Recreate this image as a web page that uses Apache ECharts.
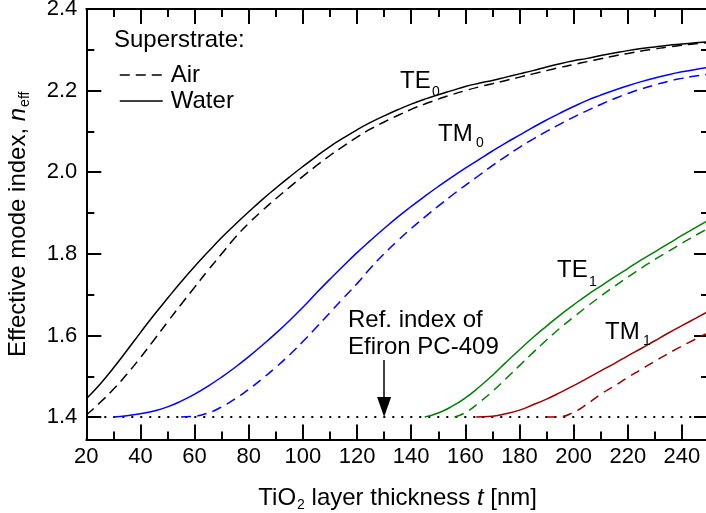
<!DOCTYPE html>
<html><head><meta charset="utf-8">
<script src="https://cdn.jsdelivr.net/npm/echarts@6/dist/echarts.min.js"></script>
<style>html,body{margin:0;padding:0;background:#fff}#c{width:706px;height:513px}</style>
</head><body><div id="c"></div>
<script>
// ---------- data ----------
const xMin = 20, xMax = 250, xStep = 20;
const yMin = 1.345, yMax = 2.4, yLabelStep = 0.2;

const te0WaterT = [20,25,30,35,40,45,50,55,60,65,70,75,80,85,90,95,100,105,110,115,120,125,130,135,140,145,150,155,160,165,170,175,180,185,190,195,200,205,210,215,220,225,230,235,240,245,250];
const te0WaterN = [1.445,1.480,1.520,1.563,1.607,1.650,1.691,1.731,1.769,1.805,1.840,1.872,1.903,1.933,1.961,1.988,2.014,2.039,2.063,2.084,2.104,2.122,2.138,2.153,2.167,2.179,2.190,2.200,2.210,2.218,2.225,2.233,2.241,2.249,2.258,2.266,2.273,2.279,2.286,2.292,2.298,2.303,2.307,2.311,2.314,2.317,2.320];

const te0AirT = [20,25,30,35,40,45,50,55,60,65,70,75,80,85,90,95,100,105,110,115,120,125,130,135,140,145,150,155,160,165,170,175,180,185,190,195,200,205,210,215,220,225,230,235,240,245,250];
const te0AirN = [1.405,1.435,1.468,1.505,1.546,1.589,1.633,1.676,1.718,1.760,1.800,1.840,1.875,1.906,1.935,1.963,1.990,2.016,2.041,2.064,2.086,2.106,2.123,2.139,2.154,2.167,2.179,2.190,2.200,2.209,2.217,2.225,2.233,2.241,2.249,2.257,2.264,2.271,2.278,2.285,2.291,2.297,2.302,2.307,2.311,2.315,2.318];

const tm0WaterT = [30,35,40,45,50,55,60,65,70,75,80,85,90,95,100,105,110,115,120,125,130,135,140,145,150,155,160,165,170,175,180,185,190,195,200,205,210,215,220,225,230,235,240,245,250];
const tm0WaterN = [1.400,1.403,1.408,1.415,1.425,1.439,1.456,1.476,1.498,1.522,1.548,1.576,1.605,1.636,1.669,1.704,1.738,1.771,1.803,1.833,1.862,1.890,1.916,1.941,1.965,1.988,2.010,2.031,2.052,2.072,2.091,2.110,2.128,2.145,2.161,2.176,2.189,2.201,2.212,2.222,2.231,2.239,2.246,2.252,2.257];

const tm0AirT = [55,60,65,70,75,80,85,90,95,100,105,110,115,120,125,130,135,140,145,150,155,160,165,170,175,180,185,190,195,200,205,210,215,220,225,230,235,240,245,250];
const tm0AirN = [1.400,1.402,1.410,1.425,1.445,1.468,1.494,1.522,1.552,1.585,1.620,1.656,1.692,1.727,1.765,1.800,1.832,1.862,1.890,1.917,1.943,1.968,1.992,2.016,2.039,2.061,2.081,2.100,2.118,2.135,2.151,2.166,2.180,2.193,2.204,2.214,2.223,2.230,2.236,2.240];

const te1WaterT = [145,150,155,160,165,170,175,180,185,190,195,200,205,210,215,220,225,230,235,240,245,250];
const te1WaterN = [1.400,1.410,1.426,1.447,1.473,1.502,1.534,1.565,1.595,1.623,1.650,1.675,1.699,1.721,1.743,1.764,1.785,1.805,1.825,1.845,1.864,1.883];

const te1AirT = [156,160,165,170,175,180,185,190,195,200,205,210,215,220,225,230,235,240,245,250];
const te1AirN = [1.400,1.411,1.435,1.463,1.494,1.526,1.558,1.589,1.618,1.645,1.671,1.696,1.720,1.743,1.765,1.786,1.806,1.826,1.845,1.864];

const tm1WaterT = [164,170,175,180,185,190,195,200,205,210,215,220,225,230,235,240,245,250];
const tm1WaterN = [1.400,1.402,1.408,1.417,1.430,1.444,1.460,1.477,1.495,1.513,1.531,1.550,1.568,1.587,1.606,1.624,1.642,1.660];

const tm1AirT = [190,195,200,205,210,215,220,225,230,235,240,245,250];
const tm1AirN = [1.400,1.401,1.412,1.432,1.456,1.476,1.497,1.517,1.537,1.556,1.574,1.591,1.608];

const refIndexT = [20, 250];
const refIndexN = [1.40, 1.40];
const arrowT = 130, arrowTopN = 1.54, arrowHeadN = 1.4245;

// ---------- chart ----------
const FONT = '"Liberation Sans", Arial, sans-serif';
const K = '#000000', B = '#0000ff', G = '#008000', R = '#990000';
const DASH = [10, 6];
const pairs = (t, n) => t.map((v, i) => [v, n[i]]);
function curve(name, t, n, color, dashed) {
  return {
    type: 'line', name: name, data: pairs(t, n), symbol: 'none', showSymbol: false,
    smooth: 0.5, silent: true, z: 3,
    lineStyle: { color: color, width: 1.5, type: dashed ? DASH : 'solid' },
    itemStyle: { color: color }
  };
}
const tickStyle = { color: K, width: 2 };
const yFmt = v => (Math.abs(v / yLabelStep - Math.round(v / yLabelStep)) < 1e-6 ? v.toFixed(1) : '');
const xFmt = v => (v % xStep === 0 && v < xMax ? String(v) : '');
const richName = {
  sub: { fontSize: 14, fontFamily: FONT, color: K, padding: [14, 0, 0, 1] },
  it: { fontSize: 24, fontFamily: FONT, color: K, fontStyle: 'italic' }
};

const chart = echarts.init(document.getElementById('c'), null, { renderer: 'canvas' });
const option = {
  animation: false,
  backgroundColor: '#fff',
  grid: { left: 86.3, right: -3, top: 9, bottom: 73.5, containLabel: false, outerBoundsMode: 'none' },
  xAxis: [{
    type: 'value', min: xMin, max: xMax, interval: xStep, position: 'bottom',
    name: 'TiO{sub|2} layer thickness {it|t} [nm]', nameLocation: 'middle', nameGap: 45,
    nameTextStyle: { fontFamily: FONT, fontSize: 24, color: K, rich: richName },
    axisLine: { show: true, onZero: false, lineStyle: { color: K, width: 2 } },
    axisTick: { show: true, inside: true, length: 15, lineStyle: tickStyle },
    minorTick: { show: true, splitNumber: 2, length: 8, lineStyle: tickStyle },
    axisLabel: { show: true, margin: 6, fontFamily: FONT, fontSize: 22, color: K, formatter: xFmt },
    splitLine: { show: false }
  }, {
    type: 'value', min: xMin, max: xMax, interval: xStep, position: 'top',
    axisLine: { show: true, onZero: false, lineStyle: { color: K, width: 2 } },
    axisTick: { show: true, inside: true, length: 15, lineStyle: tickStyle },
    minorTick: { show: true, splitNumber: 2, length: 8, lineStyle: tickStyle },
    axisLabel: { show: false }, splitLine: { show: false }
  }],
  yAxis: [{
    type: 'value', min: yMin, max: yMax, splitNumber: 5, position: 'left',
    name: 'Effective mode index, {it|n}{sub|eff}', nameLocation: 'middle', nameGap: 54,
    nameTextStyle: { fontFamily: FONT, fontSize: 24, color: K, rich: richName },
    axisLine: { show: true, onZero: false, lineStyle: { color: K, width: 2 } },
    axisTick: { show: true, inside: true, length: 15, lineStyle: tickStyle },
    minorTick: { show: true, splitNumber: 2, length: 8, lineStyle: tickStyle },
    axisLabel: { show: true, margin: 9, fontFamily: FONT, fontSize: 22, color: K, formatter: yFmt, showMinLabel: false },
    splitLine: { show: false }
  }, {
    type: 'value', min: yMin, max: yMax, splitNumber: 5, position: 'right',
    axisLine: { show: true, onZero: false, lineStyle: { color: K, width: 2 } },
    axisTick: { show: true, inside: true, length: 15, lineStyle: tickStyle },
    minorTick: { show: true, splitNumber: 2, length: 8, lineStyle: tickStyle },
    axisLabel: { show: false }, splitLine: { show: false }
  }],
  legend: {
    show: true, orient: 'vertical', left: 114, top: 58, itemWidth: 43, itemHeight: 14, itemGap: 2,
    data: ['Air', 'Water'], selectedMode: false,
    itemStyle: { opacity: 0, color: 'transparent', borderWidth: 0 },
    lineStyle: { color: K, width: 1.5 },
    textStyle: { fontFamily: FONT, fontSize: 24, color: K, padding: [0, 0, 0, 3] }
  },
  series: [
    {
      type: 'line', name: 'ref', data: pairs(refIndexT, refIndexN), symbol: 'none', silent: true, z: 2,
      lineStyle: { color: K, width: 2, type: [2, 7] },
      markLine: {
        silent: true, animation: false, symbol: ['none', 'triangle'], symbolSize: [14, 20],
        label: { show: false }, lineStyle: { color: K, width: 1.5, type: 'solid' },
        data: [[{ coord: [arrowT, arrowTopN] }, { coord: [arrowT, arrowHeadN] }]]
      }
    },
    curve('TE0 water', te0WaterT, te0WaterN, K, false),
    curve('TE0 air', te0AirT, te0AirN, K, true),
    curve('TM0 water', tm0WaterT, tm0WaterN, B, false),
    curve('TM0 air', tm0AirT, tm0AirN, B, true),
    curve('TE1 water', te1WaterT, te1WaterN, G, false),
    curve('TE1 air', te1AirT, te1AirN, G, true),
    curve('TM1 water', tm1WaterT, tm1WaterN, R, false),
    curve('TM1 air', tm1AirT, tm1AirN, R, true),
    { type: 'line', name: 'Air', data: [], symbol: 'none', lineStyle: { color: K, width: 1.5, type: DASH }, itemStyle: { color: K } },
    { type: 'line', name: 'Water', data: [], symbol: 'none', lineStyle: { color: K, width: 1.5, type: 'solid' }, itemStyle: { color: K } }
  ],
  graphic: (function () {
    const items = [];
    const txt = (s, x, y, size) => items.push({
      type: 'text', x: x, y: y, silent: true, z: 10,
      style: { text: s, font: size + 'px ' + FONT, fill: K, align: 'left', verticalAlign: 'middle', textAlign: 'left', textVerticalAlign: 'middle' }
    });
    txt('Superstrate:', 114, 40, 24);
    txt('TE', 400, 81, 24); txt('0', 432, 92, 14);
    txt('TM', 438, 134, 24); txt('0', 476, 143, 14);
    txt('TE', 557, 270, 24); txt('1', 589, 282, 14);
    txt('TM', 605, 332, 24); txt('1', 643, 341, 14);
    txt('Ref. index of', 348, 320, 24);
    txt('Efiron PC-409', 348, 347, 24);
    return items;
  })()
};
chart.setOption(option);
</script>
</body></html>
